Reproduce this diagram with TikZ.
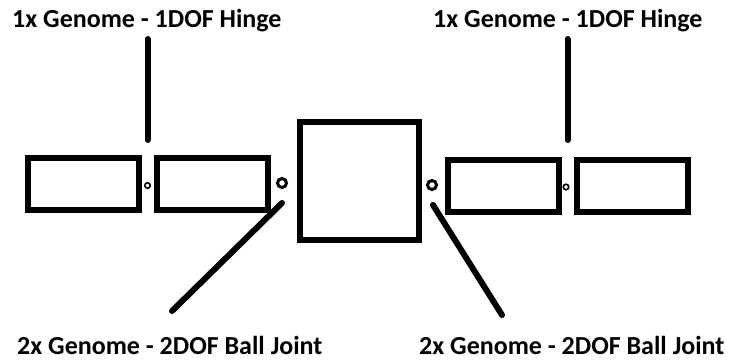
\documentclass[tikz,border=0pt]{standalone}
\usepackage{fontspec}
\setmainfont{Carlito}
\begin{document}
\begin{tikzpicture}[x=1pt,y=-1pt,
  part/.style={draw=black,line width=6pt,fill=white,inner sep=0pt},
  link/.style={draw=black,minimum width=111pt,minimum height=52pt,part},
  ball/.style={circle,draw=black,line width=3pt,minimum size=9pt,inner sep=0pt},
  hinge/.style={circle,draw=black,line width=1.6pt,minimum size=5.5pt,inner sep=0pt},
  leader/.style={line width=6pt,line cap=round},
  lbl/.style={font=\bfseries\fontsize{26}{26}\selectfont,inner sep=0pt,anchor=base west}]
\useasboundingbox (0,0) rectangle (732,360);
% body
\node[part,minimum width=119pt,minimum height=118pt] (body) at (359.5,181) {};
% left limb
\node[link] (l1) at (83.5,184) {};
\node[link] (l2) at (212.5,184) {};
\node[hinge] (lh) at (147.5,185.5) {};
\node[ball] (lb) at (282,183) {};
% right limb
\node[link] (r1) at (503,185.5) {};
\node[link] (r2) at (632,185.5) {};
\node[hinge] (rh) at (566,187) {};
\node[ball] (rb) at (432,185) {};
% labels
\node[lbl] (tl) at (12,27) {1x Genome - 1DOF Hinge};
\node[lbl] (tr) at (433,27) {1x Genome - 1DOF Hinge};
\node[lbl] (bl) at (17,354) {2x Genome - 2DOF Ball Joint};
\node[lbl] (br) at (419,354) {2x Genome - 2DOF Ball Joint};
% leader end points
\coordinate (tla) at (147.5,39);
\coordinate (tlb) at (147.5,140);
\coordinate (tra) at (567.5,39);
\coordinate (trb) at (567.5,140);
\coordinate (bla) at (282,203);
\coordinate (blb) at (172,311);
\coordinate (bra) at (433,205);
\coordinate (brb) at (502,315);
\draw[leader] (tla) -- (tlb);
\draw[leader] (tra) -- (trb);
\draw[leader] (bla) -- (blb);
\draw[leader] (bra) -- (brb);
\end{tikzpicture}
\end{document}
